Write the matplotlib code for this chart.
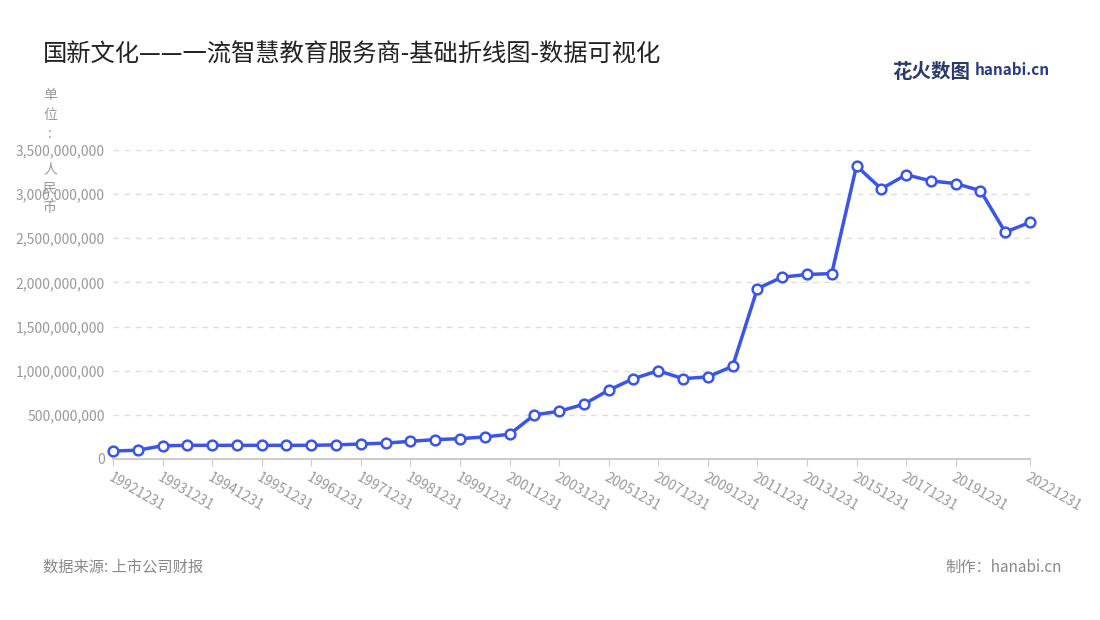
import matplotlib.pyplot as plt
from matplotlib.ticker import FuncFormatter

plt.rcParams['font.family'] = ['Noto Sans CJK SC', 'DejaVu Sans']

# dates: semi-annual 1992-1999, then yearly
dates = ['19921231']
for y in range(1993, 2000):
    dates += [f'{y}0630', f'{y}1231']
dates += [f'{y}1231' for y in range(2000, 2023)]

values = [0.09, 0.10, 0.15, 0.155, 0.155, 0.155, 0.155, 0.155, 0.155, 0.16, 0.17,
          0.18, 0.20, 0.22, 0.23, 0.25, 0.28,
          0.50, 0.54, 0.62, 0.78, 0.91, 1.00, 0.91, 0.93, 1.05,
          1.93, 2.06, 2.09, 2.10, 3.32, 3.06, 3.22, 3.15, 3.12, 3.04, 2.57, 2.68]
values = [v * 1e9 for v in values]

fig = plt.figure(figsize=(11, 6.2), dpi=100)
ax = fig.add_axes([113/1100, 1-459/620, (1030-113)/1100, (459-150)/620])

x = list(range(len(dates)))
ax.plot(x, values, color='#3a55e8', lw=2.5, marker='o', ms=7,
        mfc='white', mec='#3a55e8', mew=1.8, zorder=3, clip_on=False)

ax.set_xlim(0, len(dates) - 1)
ax.set_ylim(0, 3.5e9)
ax.set_yticks([i * 5e8 for i in range(8)])
ax.yaxis.set_major_formatter(FuncFormatter(lambda v, p: f'{int(v):,}'))
ticks = list(range(0, 35, 2)) + [len(dates) - 1]
ax.set_xticks(ticks)
ax.set_xticklabels([dates[i] for i in ticks], rotation=-30, ha='left',
                   rotation_mode='anchor', color='#999999', fontsize=10)
ax.tick_params(axis='y', colors='#999999', labelsize=10, length=0, pad=6)
ax.tick_params(axis='x', color='#cccccc', length=5)
ax.grid(axis='y', color='#dddddd', ls=(0, (4, 4)), lw=1)
for s in ['top', 'right', 'left']:
    ax.spines[s].set_visible(False)
ax.spines['bottom'].set_color('#cccccc')
ax.spines['bottom'].set_linewidth(1.5)

fig.text(43/1100, 1-55/620, '国新文化——一流智慧教育服务商-基础折线图-数据可视化',
         fontsize=17.5, color='#222222', va='center')
fig.text(50/1100, 1-88/620, '单\n位\n:', fontsize=10, color='#999999',
         va='top', ha='center', linespacing=1.5)
fig.text(50/1100, 1-162/620, '人\n民\n币', fontsize=10, color='#999999',
         va='top', ha='center', linespacing=1.5)
fig.text(43/1100, 1-567/620, '数据来源: 上市公司财报', fontsize=11, color='#888888', va='center')
fig.text(1062/1100, 1-567/620, '制作：hanabi.cn', fontsize=11, color='#888888',
         va='center', ha='right')
fig.text(892/1100, 1-72/620, '花火数图', fontsize=14, color='#2a3a6a', va='center',
         fontweight='bold')
fig.text(975/1100, 1-70/620, 'hanabi.cn', fontsize=11, color='#2a3a8a', va='center',
         fontweight='bold')

fig.savefig('out.png', dpi=100, facecolor='white')
